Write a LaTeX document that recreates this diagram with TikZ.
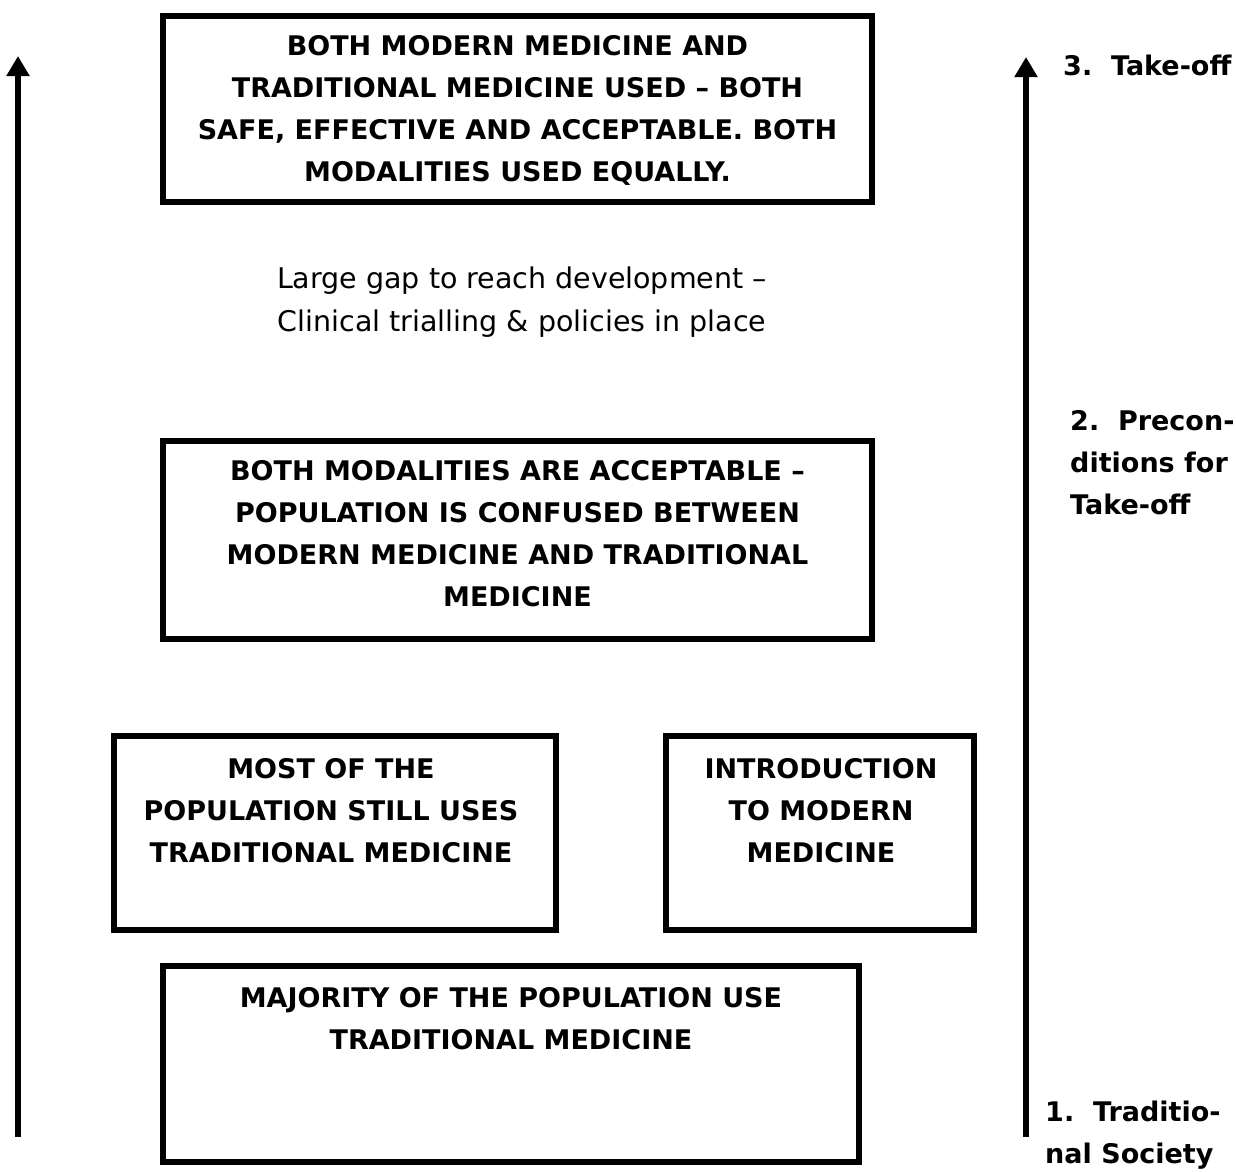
\documentclass[tikz,border=0pt]{standalone}
\usepackage{fontspec}
\setmainfont{DejaVu Sans}
\usetikzlibrary{arrows.meta}
\begin{document}
\begin{tikzpicture}[x=1pt,y=-1pt,
  box/.style={draw,line width=6pt,inner sep=0pt,anchor=center},
  btxt/.style={anchor=north,inner sep=0pt,align=center,font=\fontsize{27}{42}\selectfont\bfseries},
  rtxt/.style={anchor=north,inner sep=0pt,align=center,font=\fontsize{28.5}{43}\selectfont},
  lbl/.style={anchor=north west,inner sep=0pt,align=left,font=\fontsize{27}{42}\selectfont\bfseries},
  arr/.style={line width=6pt,-{Triangle[width=22pt,length=20pt]}}]
\useasboundingbox (0,0) rectangle (1236,1171);
% boxes
\node[box,minimum width=709pt,minimum height=186pt] (b1) at (517.5,109) {};
\node[box,minimum width=709pt,minimum height=198pt] (b2) at (517.5,540) {};
\node[box,minimum width=442pt,minimum height=194pt] (b3) at (335,833) {};
\node[box,minimum width=308pt,minimum height=194pt] (b4) at (820,833) {};
\node[box,minimum width=696pt,minimum height=196pt] (b5) at (511,1064) {};
% texts
\node[btxt] (t1) at (517.5,35) {BOTH MODERN MEDICINE AND\\TRADITIONAL MEDICINE USED -- BOTH\\SAFE, EFFECTIVE AND ACCEPTABLE. BOTH\\MODALITIES USED EQUALLY.};
\node[btxt] (t2) at (517.5,460) {BOTH MODALITIES ARE ACCEPTABLE --\\POPULATION IS CONFUSED BETWEEN\\MODERN MEDICINE AND TRADITIONAL\\MEDICINE};
\node[btxt] (t3) at (331,758) {MOST OF THE\\POPULATION STILL USES\\TRADITIONAL MEDICINE};
\node[btxt] (t4) at (821,758) {INTRODUCTION\\TO MODERN\\MEDICINE};
\node[btxt] (t5) at (511,987) {MAJORITY OF THE POPULATION USE\\TRADITIONAL MEDICINE};
\node[rtxt] (gap) at (522,267) {Large gap to reach development --\\Clinical trialling \& policies in place};
% arrows
\coordinate (la0) at (18,1137);
\coordinate (la1) at (18,56);
\coordinate (ra0) at (1026,1137);
\coordinate (ra1) at (1026,57);
\draw[arr] (la0) -- (la1);
\draw[arr] (ra0) -- (ra1);
% stage labels
\node[lbl] (s3) at (1063,55) {3.\ \ Take-off};
\node[lbl] (s2) at (1070,410) {2.\ \ Precon-\\ditions for\\Take-off};
\node[lbl] (s1) at (1045,1101) {1.\ \ Traditio-\\nal Society};
\end{tikzpicture}
\end{document}
